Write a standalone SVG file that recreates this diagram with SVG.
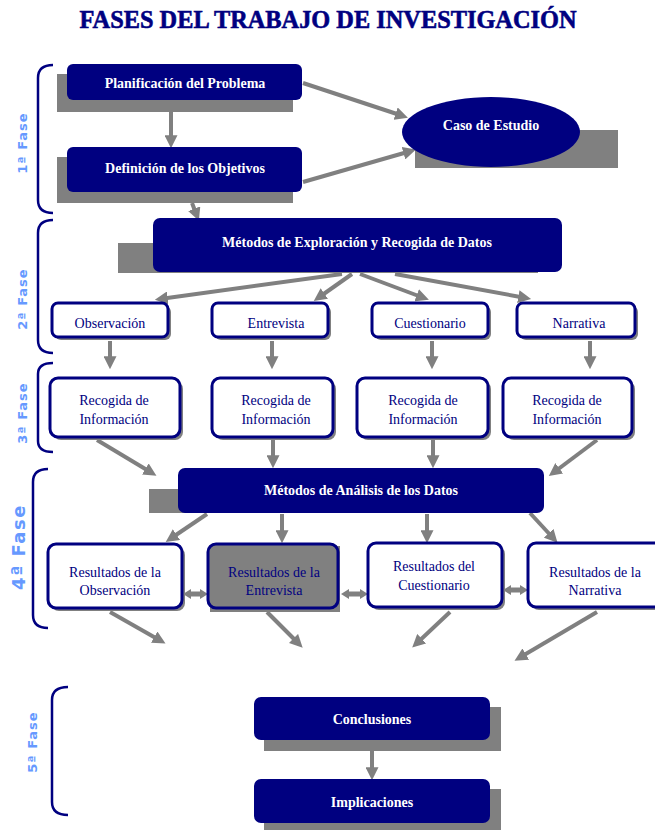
<svg xmlns="http://www.w3.org/2000/svg" width="655" height="830" viewBox="0 0 655 830">
<style>
.title{font-family:"Liberation Serif","Times New Roman",serif;font-weight:bold;font-size:26px;fill:#000080;stroke:#000080;stroke-width:0.6}
.fase{font-family:"DejaVu Sans","Liberation Sans",sans-serif;font-weight:bold;font-size:13px;fill:#6699FF;letter-spacing:1px}
.dark{fill:#000080}
.shadow{fill:#808080}
.wt{font-family:"Liberation Serif","Times New Roman",serif;font-weight:bold;font-size:14px;fill:#ffffff;text-anchor:middle}
.nt{font-family:"Liberation Serif","Times New Roman",serif;font-size:14px;fill:#000080;text-anchor:middle}
.wbox{fill:#ffffff;stroke:#000080;stroke-width:3}
.gbox{fill:#808080;stroke:#000080;stroke-width:3}
.bracket{fill:none;stroke:#000080;stroke-width:2.5}
.conn line{stroke:#808080;stroke-width:4;marker-end:url(#ah)}
.conn path{fill:#808080}
</style>
<defs>
<marker id="ah" viewBox="0 0 10 10" refX="6" refY="5" markerWidth="13" markerHeight="13" markerUnits="userSpaceOnUse" orient="auto">
<path d="M0,0 L10,5 L0,10 z" fill="#808080"/>
</marker>
</defs>
<rect width="655" height="830" fill="#ffffff"/>
<text class="title" x="328" y="28" text-anchor="middle" textLength="497" lengthAdjust="spacingAndGlyphs">FASES DEL TRABAJO DE INVESTIGACIÓN</text>

<g id="brackets">
<path class="bracket" d="M53,65 Q38,65 38,78 L38,200 Q38,213 53,213"/>
<path class="bracket" d="M53,220 Q38,220 38,233 L38,340 Q38,353 53,353"/>
<path class="bracket" d="M53,363 Q38,363 38,374 L38,441 Q38,452 53,452"/>
<path class="bracket" d="M48,469 Q33,469 33,482 L33,615 Q33,628 48,628"/>
<path class="bracket" d="M68,687 Q52,687 52,700 L52,802 Q52,815 68,815"/>
</g>
<g id="fase-labels">
<text class="fase" transform="translate(27,143) rotate(-90)" text-anchor="middle">1ª Fase</text>
<text class="fase" transform="translate(27,299) rotate(-90)" text-anchor="middle">2ª Fase</text>
<text class="fase" transform="translate(27,413) rotate(-90)" text-anchor="middle">3ª Fase</text>
<text class="fase" style="font-size:18px;letter-spacing:1.5px" transform="translate(25,547) rotate(-90)" text-anchor="middle">4ª Fase</text>
<text class="fase" transform="translate(37,742) rotate(-90)" text-anchor="middle">5ª Fase</text>
</g>

<g id="connectors" class="conn">
<line x1="171" y1="112" x2="171" y2="143"/>
<line x1="303" y1="83" x2="403" y2="116"/>
<line x1="303" y1="182" x2="411" y2="151"/>
<line x1="192" y1="203" x2="197" y2="216"/>
<line x1="342" y1="274" x2="160" y2="299"/>
<line x1="352" y1="274" x2="318" y2="298"/>
<line x1="360" y1="274" x2="424" y2="298"/>
<line x1="395" y1="274" x2="526" y2="298"/>
<line x1="110" y1="341" x2="110" y2="364"/>
<line x1="272" y1="341" x2="272" y2="364"/>
<line x1="432" y1="341" x2="432" y2="364"/>
<line x1="590" y1="341" x2="590" y2="364"/>
<line x1="97" y1="440" x2="152" y2="473"/>
<line x1="273" y1="440" x2="273" y2="463"/>
<line x1="433" y1="440" x2="433" y2="463"/>
<line x1="597" y1="440" x2="553" y2="473"/>
<line x1="207" y1="514" x2="170" y2="539"/>
<line x1="282" y1="514" x2="282" y2="538"/>
<line x1="427" y1="514" x2="427" y2="538"/>
<line x1="530" y1="513" x2="554" y2="539"/>
<path d="M183,594 L191,589 L191,591.5 L200,591.5 L200,589 L208,594 L200,599 L200,596.5 L191,596.5 L191,599 Z"/>
<path d="M341,594 L349,589 L349,591.5 L360,591.5 L360,589 L368,594 L360,599 L360,596.5 L349,596.5 L349,599 Z"/>
<path d="M503,590 L511,585 L511,587.5 L520,587.5 L520,585 L528,590 L520,595 L520,592.5 L511,592.5 L511,595 Z"/>
<line x1="110" y1="612" x2="161" y2="641"/>
<line x1="267" y1="612" x2="299" y2="644"/>
<line x1="450" y1="612" x2="416" y2="644"/>
<line x1="597" y1="612" x2="519" y2="658"/>
<line x1="372" y1="751" x2="372" y2="775"/>
</g>

<g id="n-planificacion">
<rect class="shadow" x="57" y="74" width="236" height="38"/>
<rect class="dark" x="67" y="64" width="235" height="36" rx="6"/>
<text class="wt" x="185" y="88">Planificación del Problema</text>
</g>
<g id="n-definicion">
<rect class="shadow" x="57" y="157" width="236" height="46"/>
<rect class="dark" x="67" y="147" width="235" height="45" rx="6"/>
<text class="wt" x="185" y="173">Definición de los Objetivos</text>
</g>
<g id="n-caso">
<rect class="shadow" x="415" y="130" width="203" height="38"/>
<ellipse class="dark" cx="491" cy="132" rx="89" ry="35"/>
<text class="wt" x="491" y="130">Caso de Estudio</text>
</g>
<g id="n-metodos-exploracion">
<rect class="shadow" x="118" y="243" width="420" height="30"/>
<rect class="dark" x="153" y="218" width="409" height="54" rx="7"/>
<text class="wt" x="357" y="247">Métodos de Exploración y Recogida de Datos</text>
</g>

<g id="n-observacion">
<rect class="shadow" x="55" y="306" width="116" height="34" rx="6"/>
<rect class="wbox" x="52" y="303" width="116" height="34" rx="6"/>
<text class="nt" x="110" y="328">Observación</text>
</g>
<g id="n-entrevista">
<rect class="shadow" x="215" y="306" width="116" height="34" rx="6"/>
<rect class="wbox" x="212" y="303" width="116" height="34" rx="6"/>
<text class="nt" x="276" y="328">Entrevista</text>
</g>
<g id="n-cuestionario">
<rect class="shadow" x="375" y="306" width="116" height="34" rx="6"/>
<rect class="wbox" x="372" y="303" width="116" height="34" rx="6"/>
<text class="nt" x="430" y="328">Cuestionario</text>
</g>
<g id="n-narrativa">
<rect class="shadow" x="520" y="306" width="118" height="34" rx="6"/>
<rect class="wbox" x="517" y="303" width="118" height="34" rx="6"/>
<text class="nt" x="579" y="328">Narrativa</text>
</g>

<g id="n-recogida-1">
<rect class="shadow" x="53" y="381" width="130" height="59" rx="8"/>
<rect class="wbox" x="50" y="378" width="130" height="59" rx="8"/>
<text class="nt" x="114" y="405">Recogida de</text>
<text class="nt" x="114" y="424">Información</text>
</g>
<g id="n-recogida-2">
<rect class="shadow" x="215" y="381" width="121" height="59" rx="8"/>
<rect class="wbox" x="212" y="378" width="121" height="59" rx="8"/>
<text class="nt" x="276" y="405">Recogida de</text>
<text class="nt" x="276" y="424">Información</text>
</g>
<g id="n-recogida-3">
<rect class="shadow" x="360" y="381" width="131" height="59" rx="8"/>
<rect class="wbox" x="357" y="378" width="131" height="59" rx="8"/>
<text class="nt" x="423" y="405">Recogida de</text>
<text class="nt" x="423" y="424">Información</text>
</g>
<g id="n-recogida-4">
<rect class="shadow" x="506" y="381" width="129" height="59" rx="8"/>
<rect class="wbox" x="503" y="378" width="129" height="59" rx="8"/>
<text class="nt" x="567" y="405">Recogida de</text>
<text class="nt" x="567" y="424">Información</text>
</g>

<g id="n-metodos-analisis">
<rect class="shadow" x="149" y="489" width="380" height="24"/>
<rect class="dark" x="178" y="468" width="366" height="45" rx="7"/>
<text class="wt" x="361" y="495">Métodos de Análisis de los Datos</text>
</g>

<g id="n-res-observacion">
<rect class="shadow" x="51" y="547" width="134" height="64" rx="8"/>
<rect class="wbox" x="48" y="544" width="134" height="64" rx="8"/>
<text class="nt" x="115" y="577">Resultados de la</text>
<text class="nt" x="115" y="595">Observación</text>
</g>
<g id="n-res-entrevista">
<rect class="shadow" x="210" y="546" width="130" height="66"/>
<rect class="gbox" x="208" y="544" width="130" height="64" rx="8"/>
<text class="nt" x="274" y="577">Resultados de la</text>
<text class="nt" x="274" y="595">Entrevista</text>
</g>
<g id="n-res-cuestionario">
<rect class="shadow" x="371" y="546" width="134" height="64" rx="8"/>
<rect class="wbox" x="368" y="543" width="134" height="64" rx="8"/>
<text class="nt" x="434" y="571">Resultados del</text>
<text class="nt" x="434" y="590">Cuestionario</text>
</g>
<g id="n-res-narrativa">
<rect class="shadow" x="531" y="546" width="134" height="64" rx="8"/>
<rect class="wbox" x="528" y="543" width="134" height="64" rx="8"/>
<text class="nt" x="595" y="577">Resultados de la</text>
<text class="nt" x="595" y="595">Narrativa</text>
</g>

<g id="n-conclusiones">
<rect class="shadow" x="264" y="707" width="237" height="44"/>
<rect class="dark" x="254" y="697" width="236" height="43" rx="7"/>
<text class="wt" x="372" y="724">Conclusiones</text>
</g>
<g id="n-implicaciones">
<rect class="shadow" x="264" y="789" width="237" height="41"/>
<rect class="dark" x="254" y="779" width="236" height="44" rx="7"/>
<text class="wt" x="372" y="807">Implicaciones</text>
</g>
</svg>
